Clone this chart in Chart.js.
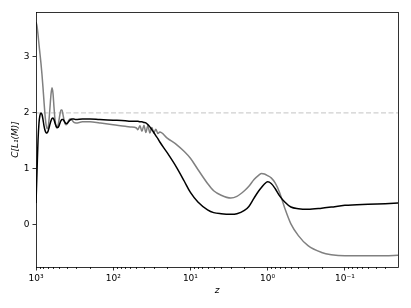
<!DOCTYPE html>
<html>
<head>
<meta charset="utf-8">
<script src="https://cdn.jsdelivr.net/npm/chart.js@4.4.1/dist/chart.umd.min.js"></script>
<style>
  body { margin: 0; background: #fff; }
  #wrap { width: 411px; height: 308px; }
</style>
</head>
<body>
<div id="wrap"><canvas id="c" width="411" height="308"></canvas></div>
<script>
// redshift samples (shared by both curves)
const z = [
  1000, 970.6, 942.2, 914.5, 887.6, 861.5, 836.2, 811.6, 787.8, 764.6, 742.2,
  720.4, 699.2, 678.7, 658.7, 639.4, 620.6, 602.4, 584.7, 567.5, 550.9, 534.7,
  519.0, 503.7, 488.9, 474.6, 460.6, 447.1, 434.0, 421.2, 408.9, 396.9, 385.2,
  363, 342, 322.3, 303.7,
  250, 200, 150, 100, 70, 60, 50,
  48, 45, 42.5, 40, 37.8, 35.6, 33.5, 31.6, 29.8, 28, 26.4, 24.9,
  20, 15, 12, 10, 8, 6, 5, 4, 3, 2.5, 2,
  1.75, 1.5, 1.3, 1.2, 1.1, 1, 0.9, 0.8, 0.7, 0.6, 0.5, 0.4, 0.3, 0.2, 0.15, 0.1, 0.05, 0.03, 0.0205
];
const black = [
  0.39, 0.95, 1.5, 1.82, 1.96, 2.0, 1.97, 1.88, 1.77, 1.69, 1.65,
  1.64, 1.67, 1.73, 1.8, 1.86, 1.9, 1.91, 1.88, 1.82, 1.77, 1.74,
  1.74, 1.77, 1.82, 1.86, 1.88, 1.88, 1.86, 1.83, 1.81, 1.81, 1.83,
  1.87, 1.89, 1.89, 1.88,
  1.89, 1.89, 1.88, 1.87, 1.86, 1.85, 1.85,
  1.85, 1.84, 1.84, 1.83, 1.82, 1.79, 1.75, 1.70, 1.65, 1.59, 1.54, 1.48,
  1.29, 1.02, 0.78, 0.58, 0.41, 0.27, 0.22, 0.20, 0.19, 0.20, 0.26,
  0.33, 0.48, 0.61, 0.67, 0.73, 0.77, 0.74, 0.65, 0.52, 0.41, 0.32, 0.29, 0.28, 0.30, 0.32, 0.35, 0.37, 0.38, 0.39
];
const gray = [
  3.62, 3.55, 3.4, 3.22, 3.05, 2.88, 2.68, 2.45, 2.2, 1.97, 1.8,
  1.72, 1.73, 1.87, 2.1, 2.33, 2.45, 2.35, 2.1, 1.88, 1.76, 1.73,
  1.77, 1.87, 1.98, 2.05, 2.05, 1.97, 1.88, 1.81, 1.79, 1.8, 1.84,
  1.89, 1.87, 1.83, 1.82,
  1.84, 1.84, 1.82, 1.79, 1.76, 1.75, 1.73,
  1.70, 1.77, 1.67, 1.78, 1.65, 1.77, 1.64, 1.74, 1.64, 1.71, 1.63, 1.66,
  1.55, 1.43, 1.31, 1.19, 0.99, 0.74, 0.61, 0.53, 0.48, 0.51, 0.61,
  0.69, 0.81, 0.89, 0.92, 0.91, 0.88, 0.84, 0.75, 0.58, 0.30, 0.02, -0.19, -0.37, -0.49, -0.53, -0.55, -0.55, -0.55, -0.54
];
const refLevel = 2;
const xTicks = [1000, 100, 10, 1, 0.1];
const xTickLabels = ['10³', '10²', '10¹', '10⁰', '10⁻¹'];
const yTicks = [0, 1, 2, 3];

const xMin = 0.0205, xMax = 1000;
const toPts = ys => z.map((v, i) => ({ x: v, y: ys[i] }));
const FONT = "'DejaVu Sans', sans-serif";

// box around the axes + minor log ticks
const frame = {
  id: 'frame',
  afterDraw(chart) {
    const { ctx, chartArea: a, scales } = chart;
    ctx.save();
    ctx.strokeStyle = '#000';
    ctx.lineWidth = 0.8;
    // minor ticks
    const xs = scales.x;
    for (let k = -2; k <= 2; k++) {
      for (let m = 2; m <= 9; m++) {
        const v = m * Math.pow(10, k);
        if (v < xMin || v > xMax) continue;
        const px = Math.round(xs.getPixelForValue(v)) + 0.5;
        ctx.beginPath();
        ctx.moveTo(px, a.bottom);
        ctx.lineTo(px, a.bottom + 2);
        ctx.stroke();
      }
    }
    ctx.strokeRect(Math.round(a.left) + 0.5, Math.round(a.top) + 0.5,
      Math.round(a.right - a.left), Math.round(a.bottom - a.top));
    ctx.restore();
  }
};

new Chart(document.getElementById('c').getContext('2d'), {
  type: 'line',
  data: {
    datasets: [
      {
        data: toPts(black),
        borderColor: '#000',
        borderWidth: 1.5,
        pointRadius: 0,
        cubicInterpolationMode: 'monotone',
        order: 1
      },
      {
        data: toPts(gray),
        borderColor: '#808080',
        borderWidth: 1.5,
        pointRadius: 0,
        cubicInterpolationMode: 'monotone',
        order: 2
      },
      {
        data: [{ x: xMax, y: refLevel }, { x: xMin, y: refLevel }],
        borderColor: '#cfcfcf',
        borderWidth: 1.2,
        borderDash: [5, 2.5],
        pointRadius: 0,
        order: 3
      }
    ]
  },
  options: {
    responsive: false,
    animation: false,
    layout: { padding: { top: 12, right: 13, left: 0, bottom: 0 } },
    plugins: { legend: { display: false }, tooltip: { enabled: false } },
    scales: {
      x: {
        type: 'logarithmic',
        reverse: true,
        min: xMin,
        max: xMax,
        afterBuildTicks: s => { s.ticks = xTicks.map(v => ({ value: v })); },
        afterFit: s => { s.height = 41; },
        ticks: {
          autoSkip: false,
          maxRotation: 0,
          padding: 3,
          color: '#000',
          font: { family: FONT, size: 9 },
          callback: v => xTickLabels[xTicks.indexOf(v)]
        },
        grid: { drawOnChartArea: false, tickLength: 3.5, tickColor: '#000', tickWidth: 0.8 },
        border: { display: false },
        title: {
          display: true,
          text: 'z',
          color: '#000',
          font: { family: FONT, size: 9, style: 'italic' },
          padding: { top: 0, bottom: 12 }
        }
      },
      y: {
        min: -0.75,
        max: 3.8,
        afterBuildTicks: s => { s.ticks = yTicks.map(v => ({ value: v })); },
        afterFit: s => { s.width = 36; },
        ticks: {
          padding: 3,
          color: '#000',
          font: { family: FONT, size: 9 }
        },
        grid: { drawOnChartArea: false, tickLength: 3.5, tickColor: '#000', tickWidth: 0.8 },
        border: { display: false },
        title: {
          display: true,
          text: 'C[L₁(M)]',
          color: '#000',
          font: { family: FONT, size: 9, style: 'italic' },
          padding: { top: 10, bottom: 0 }
        }
      }
    }
  },
  plugins: [frame]
});
</script>
</body>
</html>
